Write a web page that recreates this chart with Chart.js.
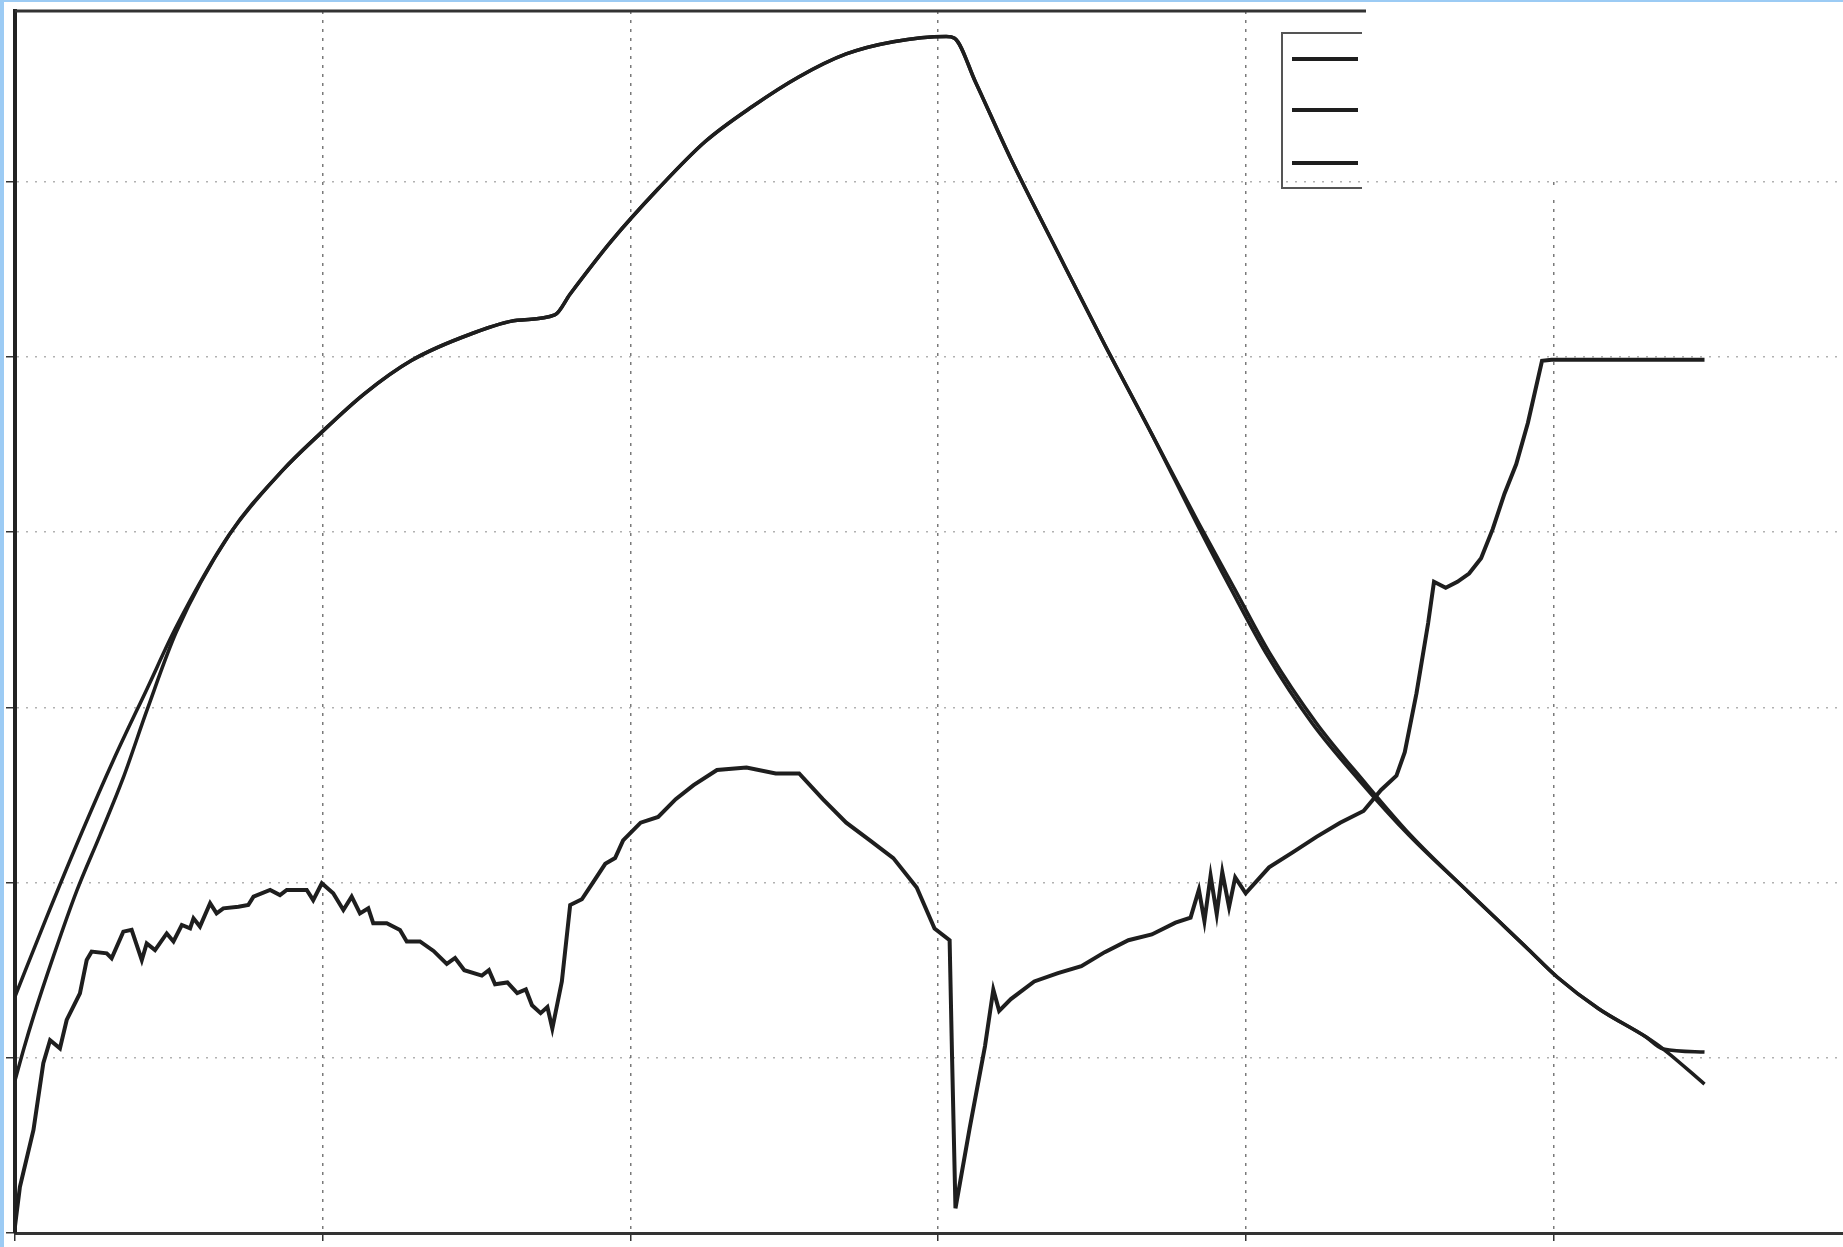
<!DOCTYPE html>
<html>
<head>
<meta charset="utf-8">
<script src="https://cdn.jsdelivr.net/npm/chart.js@4"></script>
<style>
  html, body { margin: 0; padding: 0; background: #fff; }
  canvas { display: block; }
</style>
</head>
<body>
<canvas id="LineChart" width="1843" height="1247"></canvas>
<script>
// values (x in grid units of 10, y in grid units of 10)
var curveA_x = [0, 1.0, 2.18, 3.2, 4.3, 5.24, 6.96, 8.68, 9.9, 11.35, 12.88, 14.79, 16.32, 17.54, 18.04, 19.37, 20.9, 22.43, 23.96, 25.48, 27.01, 28.54, 30.26, 30.53, 31.21, 32.36, 33.89, 35.41, 36.94, 38.4, 39.5, 40.65, 42.15, 43.7, 45.3, 47.26, 49.17, 50.12, 51.46, 52.99, 53.56, 54.9];
var curveA_y = [13.5, 17.9, 22.9, 27.0, 31.1, 34.6, 39.85, 43.5, 45.6, 47.9, 49.8, 51.3, 52.1, 52.4, 53.6, 56.6, 59.6, 62.3, 64.3, 66.0, 67.3, 68.0, 68.3, 68.2, 65.7, 61.3, 55.95, 50.7, 45.6, 40.5, 36.8, 33.1, 29.1, 25.8, 22.7, 19.4, 16.2, 14.6, 12.8, 11.2, 10.5, 8.5];

var curveB_x = [0, 0.3, 0.6, 1.25, 2.0, 2.76, 3.5, 4.3, 5.24, 6.96, 8.68, 9.9, 11.35, 12.88, 14.79, 16.32, 17.54, 18.04, 19.37, 20.9, 22.43, 23.96, 25.48, 27.01, 28.54, 30.26, 30.53, 31.21, 32.36, 33.89, 35.41, 36.94, 38.47, 39.62, 40.77, 42.29, 43.82, 45.35, 47.26, 49.17, 50.12, 51.46, 52.99, 53.56, 54.9];
var curveB_y = [8.7, 10.6, 12.35, 15.8, 19.5, 22.7, 25.9, 29.9, 34.3, 39.85, 43.5, 45.6, 47.9, 49.8, 51.3, 52.1, 52.4, 53.6, 56.6, 59.6, 62.3, 64.3, 66.0, 67.3, 68.0, 68.3, 68.2, 65.7, 61.3, 55.95, 50.7, 45.6, 40.5, 36.8, 33.1, 29.1, 25.8, 22.7, 19.4, 16.2, 14.6, 12.8, 11.2, 10.5, 10.33];

var curveC_x = [0, 0.16, 0.6, 0.92, 1.14, 1.46, 1.68, 2.11, 2.33, 2.49, 2.98, 3.14, 3.52, 3.79, 4.12, 4.28, 4.55, 4.93, 5.15, 5.42, 5.69, 5.8, 6.01, 6.34, 6.55, 6.77, 7.26, 7.58, 7.75, 8.29, 8.61, 8.83, 9.48, 9.69, 9.97, 10.34, 10.67, 10.94, 11.21, 11.48, 11.64, 12.08, 12.51, 12.73, 13.16, 13.6, 14.03, 14.3, 14.6, 15.17, 15.4, 15.6, 16.0, 16.32, 16.6, 16.8, 17.08, 17.3, 17.46, 17.77, 18.04, 18.42, 18.8, 19.18, 19.5, 19.76, 20.33, 20.9, 21.47, 22.05, 22.81, 23.77, 24.72, 25.48, 26.25, 27.01, 27.78, 28.54, 29.3, 29.88, 30.37, 30.45, 30.56, 31.02, 31.52, 31.79, 31.98, 32.36, 33.12, 33.89, 34.65, 35.41, 36.18, 36.94, 37.71, 38.2, 38.47, 38.65, 38.85, 39.05, 39.23, 39.45, 39.65, 39.99, 40.75, 41.53, 42.29, 43.06, 43.82, 44.39, 44.89, 45.16, 45.54, 45.92, 46.11, 46.49, 46.87, 47.25, 47.64, 48.02, 48.4, 48.78, 49.16, 49.62, 49.93, 54.9];
var curveC_y = [0.4, 2.64, 5.88, 9.69, 11.0, 10.54, 12.16, 13.68, 15.58, 16.06, 15.96, 15.68, 17.2, 17.3, 15.58, 16.53, 16.15, 17.1, 16.64, 17.58, 17.39, 17.96, 17.49, 18.82, 18.24, 18.53, 18.62, 18.72, 19.2, 19.58, 19.29, 19.58, 19.58, 19.0, 19.96, 19.39, 18.44, 19.2, 18.24, 18.53, 17.68, 17.68, 17.3, 16.64, 16.64, 16.1, 15.36, 15.7, 15.0, 14.69, 15.0, 14.2, 14.3, 13.69, 13.9, 13.0, 12.55, 12.9, 11.67, 14.36, 18.72, 19.05, 20.06, 21.07, 21.4, 22.41, 23.42, 23.75, 24.76, 25.56, 26.43, 26.57, 26.23, 26.23, 24.76, 23.42, 22.41, 21.4, 19.72, 17.38, 16.71, 10.0, 1.41, 5.97, 10.67, 13.89, 12.68, 13.35, 14.36, 14.83, 15.23, 16.03, 16.71, 17.04, 17.71, 18.0, 19.6, 17.8, 20.4, 18.2, 20.6, 18.6, 20.3, 19.39, 20.87, 21.74, 22.61, 23.42, 24.09, 25.29, 26.1, 27.44, 30.8, 34.82, 37.17, 36.83, 37.17, 37.64, 38.51, 40.19, 42.2, 43.88, 46.23, 49.78, 49.85, 49.85];

var xTicks = [0, 10, 20, 30, 40, 50];
var yTicks = [0, 10, 20, 30, 40, 50, 60];

function pairs(xs, ys) {
  return xs.map(function (x, i) { return { x: x, y: ys[i] }; });
}

var ink = '#1e1e1e';

// scanned frame: white page, partial top border, legend box with no text, blue edge
var scanFrame = {
  id: 'scanFrame',
  beforeDraw: function (chart) {
    var c = chart.ctx;
    c.save();
    c.fillStyle = '#fff';
    c.fillRect(0, 0, chart.width, chart.height);
    c.restore();
  },
  beforeDatasetsDraw: function (chart) {
    var c = chart.ctx;
    c.save();
    c.fillStyle = '#fff';
    c.fillRect(1366, 0, chart.width - 1366, 176);
    c.fillRect(1366, 186, chart.width - 1366, 8);
    c.restore();
  },
  afterDraw: function (chart) {
    var c = chart.ctx, a = chart.chartArea;
    c.save();
    c.strokeStyle = '#333';
    c.lineWidth = 3;
    c.beginPath();
    c.moveTo(a.left, a.top);
    c.lineTo(1366, a.top);
    c.stroke();
    // legend box
    c.lineWidth = 2;
    c.strokeStyle = '#555';
    c.beginPath();
    c.moveTo(1362, 33);
    c.lineTo(1282, 33);
    c.lineTo(1282, 188);
    c.lineTo(1362, 188);
    c.stroke();
    var rows = [59, 110, 163];
    chart.data.datasets.forEach(function (ds, i) {
      c.strokeStyle = ds.borderColor;
      c.lineWidth = 4;
      c.beginPath();
      c.moveTo(1292, rows[i]);
      c.lineTo(1358, rows[i]);
      c.stroke();
    });
    // light blue edge of the scan
    c.fillStyle = '#9ccbf4';
    c.fillRect(0, 0, 4, chart.height);
    c.fillRect(0, 0, chart.width, 2);
    c.restore();
  }
};

var ctx = document.getElementById('LineChart').getContext('2d');

var myChart = new Chart(ctx, {
  type: 'line',
  data: {
    datasets: [{
      label: 'A',
      data: pairs(curveA_x, curveA_y),
      borderColor: ink,
      borderWidth: 3.5,
      cubicInterpolationMode: 'monotone',
      pointRadius: 0,
      fill: false
    }, {
      label: 'B',
      data: pairs(curveB_x, curveB_y),
      borderColor: ink,
      borderWidth: 3.5,
      cubicInterpolationMode: 'monotone',
      pointRadius: 0,
      fill: false
    }, {
      label: 'C',
      data: pairs(curveC_x, curveC_y),
      borderColor: ink,
      borderWidth: 4,
      tension: 0,
      pointRadius: 0,
      fill: false
    }]
  },
  options: {
    responsive: false,
    animation: false,
    events: [],
    layout: { autoPadding: false, padding: { top: 11, left: 0, right: 0, bottom: 0 } },
    plugins: { legend: { display: false }, tooltip: { enabled: false } },
    scales: {
      x: {
        type: 'linear',
        min: 0,
        max: 59.4,
        afterBuildTicks: function (s) { s.ticks = xTicks.map(function (v) { return { value: v }; }); },
        afterFit: function (s) { s.height = 14; },
        ticks: { display: false },
        grid: {
          color: function (c) { return c.tick && c.tick.value === 0 ? 'rgba(0,0,0,0)' : '#7a7a7a'; },
          lineWidth: 1.5,
          tickColor: '#333',
          tickLength: 8,
          tickBorderDash: []
        },
        border: { display: true, color: '#333', width: 3, dash: [3, 6] }
      },
      y: {
        type: 'linear',
        min: 0,
        max: 69.75,
        afterBuildTicks: function (s) { s.ticks = yTicks.map(function (v) { return { value: v }; }); },
        afterFit: function (s) { s.width = 15; },
        ticks: { display: false },
        grid: {
          color: function (c) { return c.tick && c.tick.value === 0 ? 'rgba(0,0,0,0)' : 'rgba(100,100,100,0.5)'; },
          lineWidth: 1.5,
          tickColor: '#333',
          tickLength: 9,
          tickBorderDash: []
        },
        border: { display: true, color: '#222', width: 4, dash: [2, 7] }
      }
    }
  },
  plugins: [scanFrame]
});
</script>
</body>
</html>
